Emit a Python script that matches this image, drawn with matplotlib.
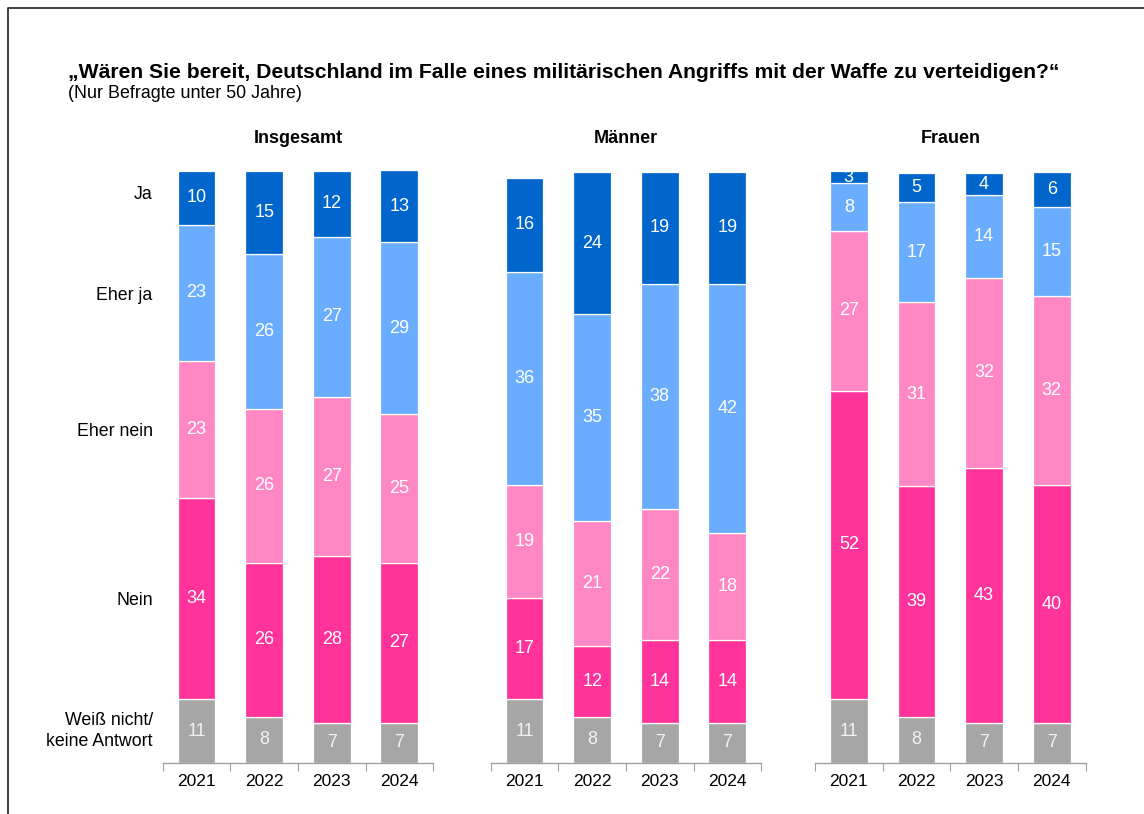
import numpy as np
import matplotlib
matplotlib.use("Agg")
import matplotlib.pyplot as plt
from matplotlib.lines import Line2D

plt.rcParams['font.family'] = ['Liberation Sans', 'DejaVu Sans']

years = ["2021", "2022", "2023", "2024"]
categories = ["Ja", "Eher ja", "Eher nein", "Nein", "Weiß nicht/\nkeine Antwort"]
panels = ["Insgesamt", "Männer", "Frauen"]

# shares as drawn (rows: Ja, Eher ja, Eher nein, Nein, Weiß nicht), columns: years
insgesamt_shares = [[9.1, 14.1, 11.1, 12.1],
                    [23.0, 26.1, 27.0, 29.1],
                    [23.1, 26.0, 27.0, 25.1],
                    [34.0, 26.0, 28.1, 27.0],
                    [10.8, 7.8, 6.8, 6.8]]
maenner_shares = [[16.0, 24.0, 19.0, 19.0],
                  [36.0, 35.0, 38.0, 42.0],
                  [19.0, 21.0, 22.1, 18.1],
                  [17.1, 12.0, 14.0, 14.0],
                  [10.8, 7.8, 6.8, 6.8]]
frauen_shares = [[2.1, 4.9, 3.8, 5.9],
                 [8.0, 17.0, 14.0, 15.0],
                 [27.0, 31.0, 32.0, 32.0],
                 [52.1, 39.0, 43.1, 40.1],
                 [10.8, 7.8, 6.8, 6.8]]

# printed labels
insgesamt_labels = [[10, 15, 12, 13], [23, 26, 27, 29], [23, 26, 27, 25], [34, 26, 28, 27], [11, 8, 7, 7]]
maenner_labels = [[16, 24, 19, 19], [36, 35, 38, 42], [19, 21, 22, 18], [17, 12, 14, 14], [11, 8, 7, 7]]
frauen_labels = [[3, 5, 4, 6], [8, 17, 14, 15], [27, 31, 32, 32], [52, 39, 43, 40], [11, 8, 7, 7]]

colors = ["#0066CC", "#6AADFF", "#FF88C4", "#FF3399", "#A6A6A6"]
text_colors = ["white", "white", "white", "white", "#F2F2F2"]

W, H = 1144, 814
fig = plt.figure(figsize=(W / 100, H / 100), dpi=100)

panel_data = [(insgesamt_shares, insgesamt_labels),
              (maenner_shares, maenner_labels),
              (frauen_shares, frauen_labels)]
lefts = [162.7, 490.7, 815.0]
ax_w = 270.5
y0, y1 = 763, 171

x = np.arange(len(years))
axes = []
for i, (shares, labels) in enumerate(panel_data):
    ax = fig.add_axes([lefts[i] / W, 1 - y0 / H, ax_w / W, (y0 - y1) / H])
    shares = np.array(shares)
    # stack from bottom: Weiß nicht, Nein, Eher nein, Eher ja, Ja
    bottom = np.zeros(len(years))
    for k in range(len(categories) - 1, -1, -1):
        ax.bar(x, shares[k], bottom=bottom, width=0.56, color=colors[k],
               edgecolor="white", linewidth=0.9)
        for j in range(len(years)):
            ax.text(x[j], bottom[j] + shares[k][j] / 2, str(labels[k][j]),
                    ha="center", va="center", color=text_colors[k], fontsize=13)
        bottom += shares[k]
    ax.set_xlim(-0.5, 3.5)
    ax.set_ylim(0, 100)
    for s in ["top", "right", "left"]:
        ax.spines[s].set_visible(False)
    ax.spines["bottom"].set_color("#A0A0A0")
    ax.spines["bottom"].set_linewidth(1)
    ax.set_yticks([])
    ax.set_xticks(np.arange(-0.5, 4, 1))
    ax.set_xticklabels([])
    ax.tick_params(axis="x", which="major", length=6, color="#A0A0A0", direction="out")
    ax.set_xticks(x, minor=True)
    ax.set_xticklabels(years, minor=True, fontsize=12.5)
    ax.tick_params(axis="x", which="minor", length=0, pad=8)
    ax.set_title(panels[i], fontsize=13, fontweight="bold", pad=20)
    axes.append(ax)

# category labels on the left
label_y = [96.0, 79.0, 56.0, 27.5, 5.4]
for k, cat in enumerate(categories):
    axes[0].text(-0.5 - 10 / 67.6, label_y[k], cat, ha="right", va="center",
                 fontsize=12.8, linespacing=1.3)

fig.text(68 / W, 1 - 73 / H, "„Wären Sie bereit, Deutschland im Falle eines militärischen Angriffs mit der Waffe zu verteidigen?“",
         fontsize=15.2, fontweight="bold", ha="left", va="center")
fig.text(68 / W, 1 - 94 / H, "(Nur Befragte unter 50 Jahre)", fontsize=12.9, ha="left", va="center")

# frame
fig.add_artist(Line2D([7.5 / W, 7.5 / W, 1.0], [0.0, 1 - 7.5 / H, 1 - 7.5 / H],
                      color="#333333", linewidth=1.3, transform=fig.transFigure))

fig.savefig("out.png", dpi=100)
